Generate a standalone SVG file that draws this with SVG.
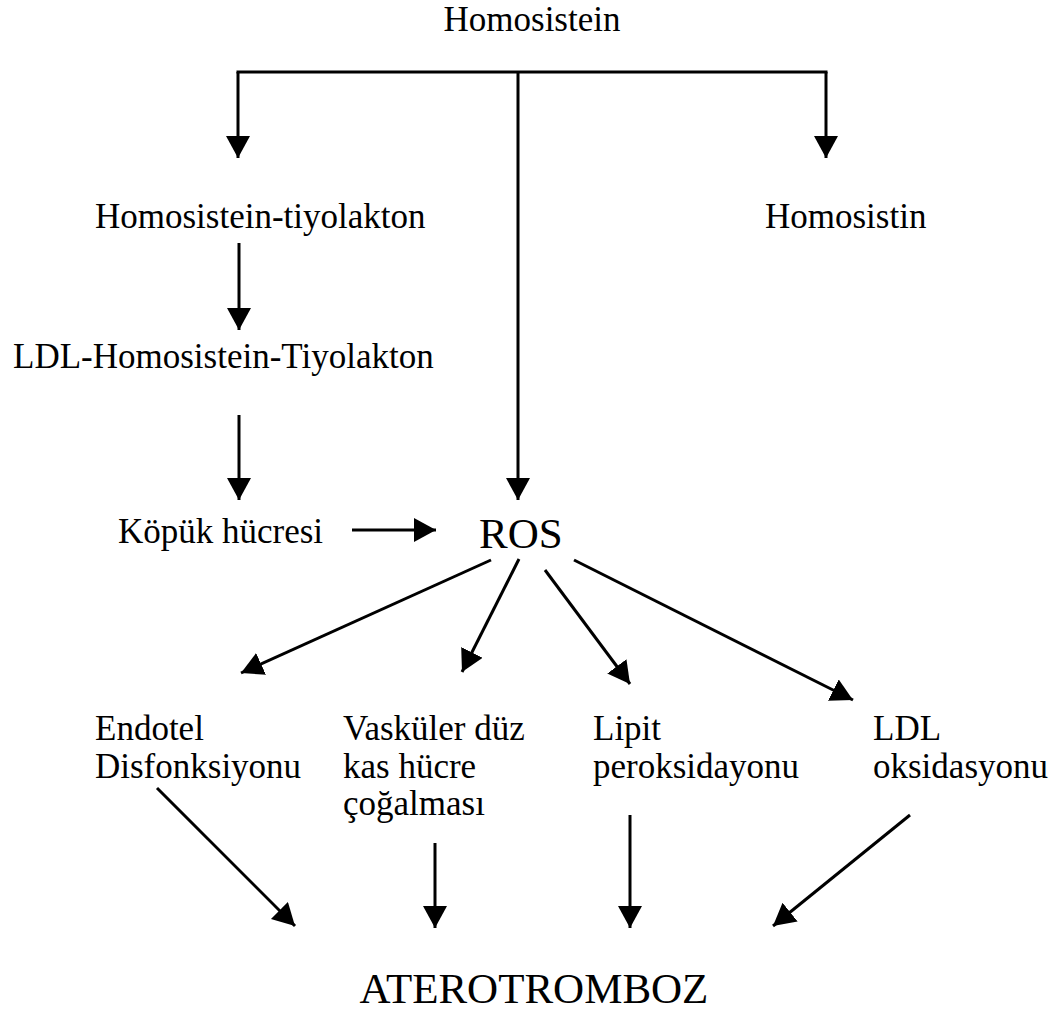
<svg xmlns="http://www.w3.org/2000/svg" width="1062" height="1014" viewBox="0 0 1062 1014">
  <style>
    .lbl { font-family: "Liberation Serif", "Times New Roman", serif; font-size: 35px; fill: #000; }
    .big { font-family: "Liberation Serif", "Times New Roman", serif; font-size: 43px; fill: #000; }
    .edge { stroke: #000; stroke-width: 3; fill: none; }
    .arr { marker-end: url(#head); }
  </style>
  <defs>
    <marker id="head" markerUnits="userSpaceOnUse" markerWidth="24" markerHeight="26" refX="22" refY="12" orient="auto" viewBox="0 0 24 26">
      <path d="M0,0 L22,12 L0,24 Z" fill="#000"/>
    </marker>
  </defs>
  <rect width="1062" height="1014" fill="#fff"/>

  <!-- nodes -->
  <g id="homosistein"><text class="lbl" x="532" y="31" text-anchor="middle">Homosistein</text></g>
  <g id="tiyolakton"><text class="lbl" x="95" y="228">Homosistein-tiyolakton</text></g>
  <g id="homosistin"><text class="lbl" x="765" y="228">Homosistin</text></g>
  <g id="ldl-tiyolakton"><text class="lbl" x="13" y="368">LDL-Homosistein-Tiyolakton</text></g>
  <g id="kopuk"><text class="lbl" x="118" y="543">Köpük hücresi</text></g>
  <g id="ros"><text class="big" x="479" y="548">ROS</text></g>
  <g id="endotel">
    <text class="lbl" x="95" y="740">Endotel</text>
    <text class="lbl" x="95" y="778">Disfonksiyonu</text>
  </g>
  <g id="vaskuler">
    <text class="lbl" x="343" y="740">Vasküler düz</text>
    <text class="lbl" x="343" y="778">kas hücre</text>
    <text class="lbl" x="343" y="815">çoğalması</text>
  </g>
  <g id="lipit">
    <text class="lbl" x="593" y="740">Lipit</text>
    <text class="lbl" x="593" y="778">peroksidayonu</text>
  </g>
  <g id="ldl-oks">
    <text class="lbl" x="873" y="740">LDL</text>
    <text class="lbl" x="873" y="778">oksidasyonu</text>
  </g>
  <g id="aterotromboz"><text class="big" x="534" y="1003" text-anchor="middle">ATEROTROMBOZ</text></g>

  <!-- connectors -->
  <g id="connectors">
    <line class="edge" x1="236.5" y1="72" x2="827.5" y2="72"/>
    <line class="edge arr" x1="238" y1="72" x2="238" y2="158"/>
    <line class="edge arr" x1="826" y1="72" x2="826" y2="158"/>
    <line class="edge arr" x1="518" y1="72" x2="518" y2="500"/>
    <line class="edge arr" x1="239" y1="243" x2="239" y2="330"/>
    <line class="edge arr" x1="239" y1="415" x2="239" y2="500"/>
    <line class="edge arr" x1="352" y1="530" x2="436" y2="530"/>
    <line class="edge arr" x1="491" y1="560" x2="241" y2="673"/>
    <line class="edge arr" x1="519" y1="559" x2="462" y2="672"/>
    <line class="edge arr" x1="545" y1="570" x2="630" y2="684"/>
    <line class="edge arr" x1="574" y1="560" x2="853" y2="700"/>
    <line class="edge arr" x1="157" y1="788" x2="295" y2="926"/>
    <line class="edge arr" x1="435" y1="843" x2="435" y2="928"/>
    <line class="edge arr" x1="630" y1="815" x2="630" y2="928"/>
    <line class="edge arr" x1="910" y1="815" x2="773" y2="926"/>
  </g>
</svg>
